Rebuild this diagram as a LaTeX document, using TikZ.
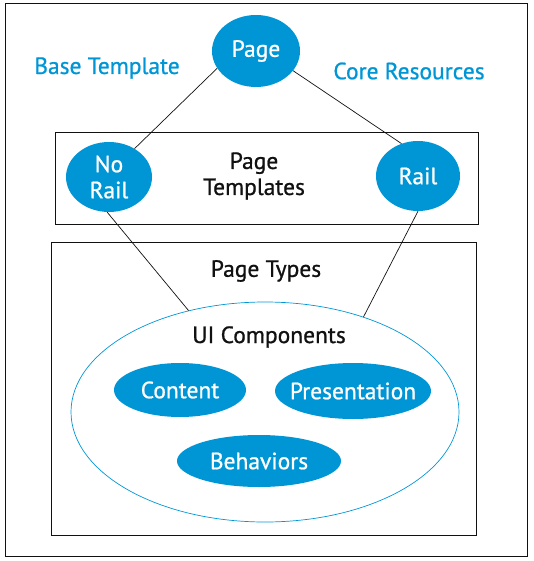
\documentclass[tikz,border=0pt]{standalone}
\usepackage{fontspec}
\setmainfont{PT Sans}
\newfontfamily\hpfont{PT Sans}[FakeBold=0.8]
\usetikzlibrary{shapes.geometric,positioning}
\definecolor{HPBlue}{HTML}{0096D6}
\definecolor{HPInk}{HTML}{111111}
\newcommand{\lblfont}{\hpfont\fontsize{23.5}{26}\selectfont}
\tikzset{
  blob/.style={ellipse,fill=HPBlue,draw=none,text=white,align=center,inner xsep=-30pt,inner ysep=-2pt,font=\lblfont},
  layerbox/.style={draw=HPInk,line width=0.9pt,inner sep=0pt},
  tierlabel/.style={text=HPBlue,font=\lblfont},
  plainlabel/.style={text=HPInk,align=center,font=\lblfont},
  link/.style={line width=0.7pt,draw=HPInk}
}

\begin{document}
\begin{tikzpicture}[x=1pt,y=-1pt]
\useasboundingbox (0,0) rectangle (534,561);
% outer frame and layer boxes
\node[layerbox,minimum width=522pt,minimum height=553pt] (frame) at (266,279.5) {};
\node[layerbox,minimum width=423pt,minimum height=92pt] (tplbox) at (266.5,178) {};
\node[layerbox,minimum width=425pt,minimum height=293pt] (typebox) at (263.5,388.5) {};

% top: page and side labels
\node[blob,minimum width=88pt,minimum height=72pt] (page) at (256,51) {Page};
\node[tierlabel] (base) at (107,68) {Base Template};
\node[tierlabel] (core) at (409,71) {Core Resources};

% page templates
\node[blob,minimum width=86pt,minimum height=70pt] (norail) at (109,177) {No\\Rail};
\node[blob,minimum width=84pt,minimum height=70pt] (rail) at (418,176) {Rail};
\node[plainlabel] (tpl) at (254,176) {Page\\Templates};

% page types and ui components
\node[plainlabel] (types) at (266,271) {Page Types};
\node[ellipse,draw=HPBlue,line width=0.7pt,minimum width=388pt,minimum height=220pt] (ui) at (265,412) {};
\node[plainlabel] (uilbl) at (269,337) {UI Components};
\node[blob,minimum width=132pt,minimum height=54pt] (content) at (180,390) {Content};
\node[blob,minimum width=156pt,minimum height=56pt] (pres) at (353,391) {Presentation};
\node[blob,minimum width=164pt,minimum height=52pt] (behav) at (259,461) {Behaviors};

\draw[link] (page.204) -- (norail.48);
\draw[link] (page.-28) -- (rail.117);
\draw[link] (norail.-93) -- (ui.127);
\draw[link] (rail.-90) -- (ui.44);
\end{tikzpicture}
\end{document}
